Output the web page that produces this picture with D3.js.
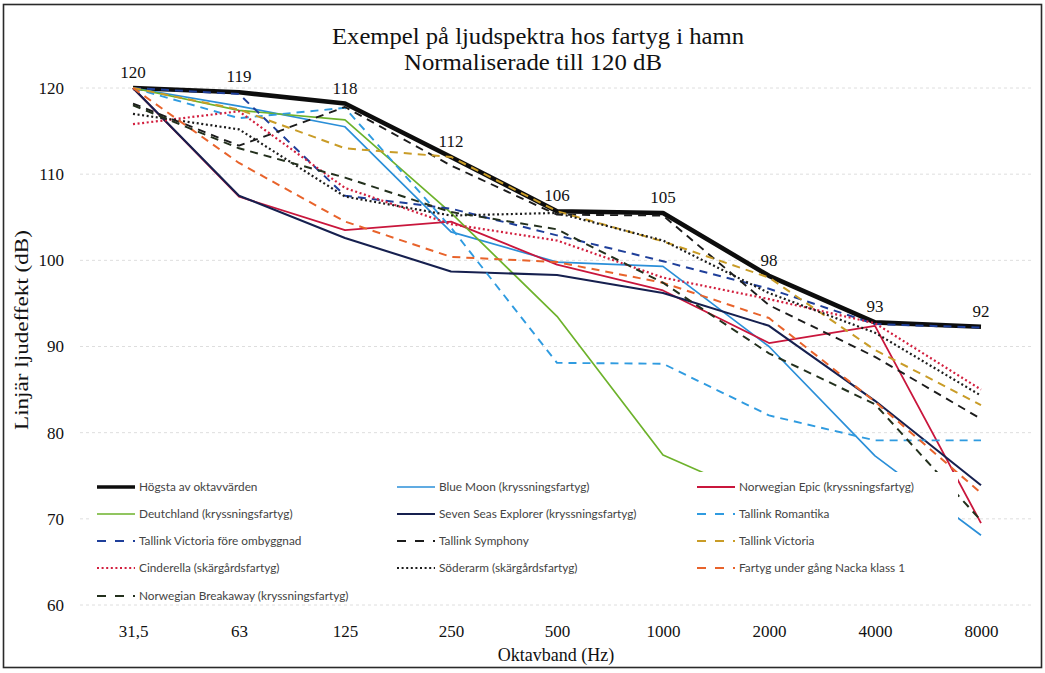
<!DOCTYPE html>
<html><head><meta charset="utf-8">
<script src="https://cdn.jsdelivr.net/npm/d3@7"></script>
<style>body{margin:0;background:#fff} svg{display:block}</style>
</head><body><svg id="c" width="1045" height="673"></svg>
<script>
// ---------- data ----------
const bands = ["31,5","63","125","250","500","1000","2000","4000","8000"];
const yTicks = [60,70,80,90,100,110,120];
const maxLabels = [120,119,118,112,106,105,98,93,92];

const hogsta      = [120, 119.5, 118.2, 112.0, 105.7, 105.5, 98.2, 92.8, 92.3];
const blueMoon    = [120, 117.9, 115.5, 103.3, 99.8, 99.3, 90.0, 77.3, 68.1];
const norwEpic    = [120, 107.4, 103.5, 104.5, 99.5, 96.5, 90.4, 92.4, 69.5];
const deutchland  = [120, 117.4, 116.3, 105.5, 93.5, 77.4, 72.0, null, null];
const sevenSeas   = [120, 107.5, 102.6, 98.7, 98.3, 96.2, 92.4, 83.7, 73.9];
const romantika   = [120, 116.5, 117.7, 103.8, 88.1, 88.0, 82.0, 79.1, 79.1];
const victFore    = [120, 119.3, 107.5, 106.0, 102.9, 99.9, 96.7, 92.6, 92.2];
const symphony    = [118.2, 113.3, 117.8, 111.0, 105.3, 105.2, 94.8, 88.8, 81.6];
const victoria    = [120, 117.5, 113.0, 112.0, 105.7, 102.2, 98.0, 89.6, 83.2];
const cinderella  = [115.8, 117.3, 108.4, 104.2, 102.3, 98.0, 95.5, 92.7, 85.0];
const soderarm    = [117.0, 115.2, 107.4, 105.2, 105.5, 102.3, 96.2, 91.6, 84.3];
const fartygNacka = [120, 111.3, 104.5, 100.4, 99.8, 97.4, 93.3, 83.6, 73.0];
const breakaway   = [118.0, 113.0, 109.6, 105.6, 103.6, 97.4, 89.2, 83.3, 69.8];

const seriesNames = [
  "Högsta av oktavvärden", "Blue Moon (kryssningsfartyg)", "Norwegian Epic (kryssningsfartyg)",
  "Deutchland (kryssningsfartyg)", "Seven Seas Explorer (kryssningsfartyg)", "Tallink Romantika",
  "Tallink Victoria före ombyggnad", "Tallink Symphony", "Tallink Victoria",
  "Cinderella (skärgårdsfartyg)", "Söderarm (skärgårdsfartyg)", "Fartyg under gång Nacka klass 1",
  "Norwegian Breakaway (kryssningsfartyg)"
];
const seriesValues = [hogsta, blueMoon, norwEpic, deutchland, sevenSeas, romantika,
  victFore, symphony, victoria, cinderella, soderarm, fartygNacka, breakaway];

// ---------- styles ----------
const DASH = "8,6", DOT = "2,2.6";
const styles = [
  {c:"#0d0d0d", w:4.6, d:null},
  {c:"#2b8fd8", w:1.7, d:null},
  {c:"#c9163c", w:1.8, d:null},
  {c:"#6db22b", w:1.7, d:null},
  {c:"#16204f", w:2.1, d:null},
  {c:"#2f9be0", w:1.9, d:DASH},
  {c:"#1f3f9a", w:2.0, d:DASH},
  {c:"#1c1c1c", w:1.9, d:DASH},
  {c:"#c99c27", w:2.0, d:DASH},
  {c:"#d21f3e", w:2.2, d:DOT},
  {c:"#1c1c1c", w:2.2, d:DOT},
  {c:"#e8632b", w:2.0, d:DASH},
  {c:"#23301d", w:2.0, d:DASH}
];

// ---------- chart ----------
const svg = d3.select("#c");
const W = 1045, H = 673;
const x = d3.scalePoint().domain(bands).range([80, 1034]).padding(0.5);
const y = d3.scaleLinear().domain([60, 120]).range([605, 88]);
const serif = "'Liberation Serif','Times New Roman',serif";
const sans = "Lato,'Open Sans',sans-serif";

svg.append("rect").attr("x",0).attr("y",0).attr("width",W).attr("height",H).attr("fill","#fff");
svg.append("rect").attr("x",3.5).attr("y",4.5).attr("width",1038).attr("height",663)
  .attr("fill","none").attr("stroke","#2a2a2a").attr("stroke-width",1.6);

// gridlines
svg.append("g").selectAll("line").data(yTicks).join("line")
  .attr("x1",80).attr("x2",1034).attr("y1",d=>y(d)).attr("y2",d=>y(d))
  .attr("stroke","#dedede").attr("stroke-width",1).attr("stroke-dasharray","3,3");

// y axis labels
const yAxis = d3.axisLeft(y).tickValues(yTicks).tickSize(0).tickPadding(0);
const gy = svg.append("g").attr("transform","translate(64,0)").call(yAxis);
gy.select(".domain").remove();
gy.selectAll("text").attr("font-family",serif).attr("font-size",17).attr("fill","#111");

// x axis labels
const xAxis = d3.axisBottom(x).tickSize(0).tickPadding(0);
const gx = svg.append("g").attr("transform","translate(0,625)").call(xAxis);
gx.select(".domain").remove();
gx.selectAll("text").attr("font-family",serif).attr("font-size",17).attr("fill","#111");

// axis titles
svg.append("text").attr("x",556).attr("y",661).attr("text-anchor","middle")
  .attr("font-family",serif).attr("font-size",18).attr("fill","#111").text("Oktavband (Hz)");
svg.append("text").attr("transform","translate(28,330) rotate(-90)").attr("text-anchor","middle")
  .attr("font-family",serif).attr("font-size",18).attr("fill","#111")
  .attr("textLength",200).attr("lengthAdjust","spacingAndGlyphs").text("Linjär ljudeffekt (dB)");

// title
svg.append("text").attr("x",538).attr("y",44).attr("text-anchor","middle")
  .attr("font-family",serif).attr("font-size",24).attr("fill","#111")
  .attr("textLength",412).attr("lengthAdjust","spacingAndGlyphs")
  .text("Exempel på ljudspektra hos fartyg i hamn");
svg.append("text").attr("x",533).attr("y",70).attr("text-anchor","middle")
  .attr("font-family",serif).attr("font-size",24).attr("fill","#111")
  .attr("textLength",258).attr("lengthAdjust","spacingAndGlyphs")
  .text("Normaliserade till 120 dB");

// lines
const line = d3.line().defined(d=>d!=null).x((d,i)=>x(bands[i])).y(d=>y(d));
const lineG = svg.append("g");
seriesValues.forEach((vals,i)=>{
  const s = styles[i];
  lineG.append("path").attr("d", line(vals))
    .attr("fill","none").attr("stroke",s.c).attr("stroke-width",s.w)
    .attr("stroke-dasharray",s.d).attr("stroke-linejoin","round");
});

// data labels on max series
svg.append("g").selectAll("text").data(maxLabels).join("text")
  .attr("x",(d,i)=>x(bands[i])).attr("y",(d,i)=>y(hogsta[i])-10)
  .attr("text-anchor","middle").attr("font-family",serif).attr("font-size",17).attr("fill","#111")
  .text(d=>d);

// legend
const lg = svg.append("g");
lg.append("rect").attr("x",90).attr("y",472).attr("width",868).attr("height",131).attr("fill","#fff");
const colX = [97, 397, 697], rowY = [487, 514, 541, 568, 596];
seriesNames.forEach((name,i)=>{
  const cx = colX[i%3], cy = rowY[Math.floor(i/3)], s = styles[i];
  lg.append("line").attr("x1",cx).attr("x2",cx+38).attr("y1",cy).attr("y2",cy)
    .attr("stroke",s.c).attr("stroke-width",Math.min(s.w,3.4)).attr("stroke-dasharray",s.d ? (s.d===DOT? DOT : "9,9") : null);
  lg.append("text").attr("x",cx+42).attr("y",cy+4).attr("font-family",sans).attr("font-size",11.8)
    .attr("fill","#444").text(name);
});
</script>
</body></html>
